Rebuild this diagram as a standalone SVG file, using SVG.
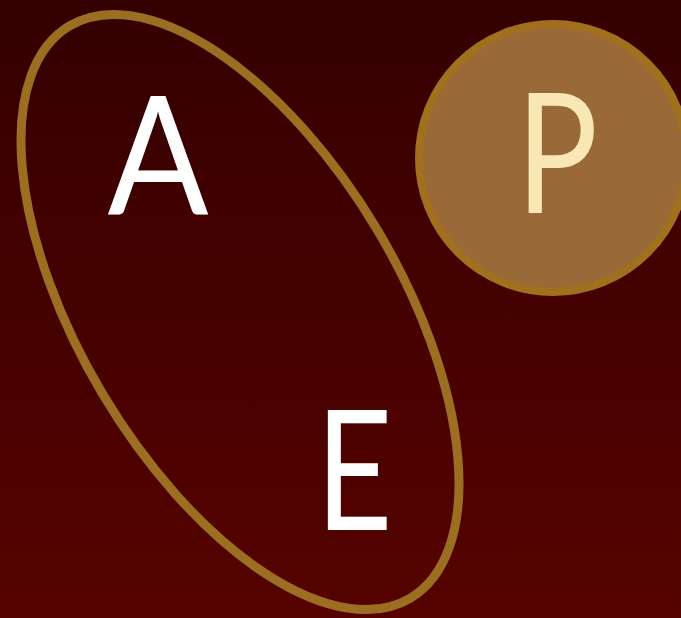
<svg xmlns="http://www.w3.org/2000/svg" width="681" height="618" viewBox="0 0 681 618">
  <defs>
    <linearGradient id="bg" x1="0" y1="0" x2="0" y2="1">
      <stop offset="0" stop-color="#340000"/>
      <stop offset="1" stop-color="#560300"/>
    </linearGradient>
    <style>
      .ring { fill: none; stroke: #9c6e22; stroke-width: 9; }
      .letter { font-family: "Lato", "Open Sans", "Liberation Sans", sans-serif; font-weight: 400; font-size: 166px; text-anchor: middle; }
    </style>
  </defs>
  <rect width="681" height="618" fill="url(#bg)"/>
  <g id="set-AE">
    <ellipse class="ring" cx="240" cy="312" rx="333" ry="160" transform="rotate(59.2 240 312)"/>
  </g>
  <g id="node-A">
    <text class="letter" x="0" y="214" fill="#ffffff" transform="translate(158 0) scale(0.9 1)">A</text>
  </g>
  <g id="node-E">
    <text class="letter" x="0" y="530" fill="#ffffff" transform="translate(354 0) scale(0.8 1)">E</text>
  </g>
  <g id="node-P">
    <circle cx="553" cy="158" r="134" fill="#996a37" stroke="#a0701f" stroke-width="8"/>
    <text class="letter" x="0" y="213" fill="#f9e7b6" transform="translate(557 0) scale(0.82 1)">P</text>
  </g>
</svg>
